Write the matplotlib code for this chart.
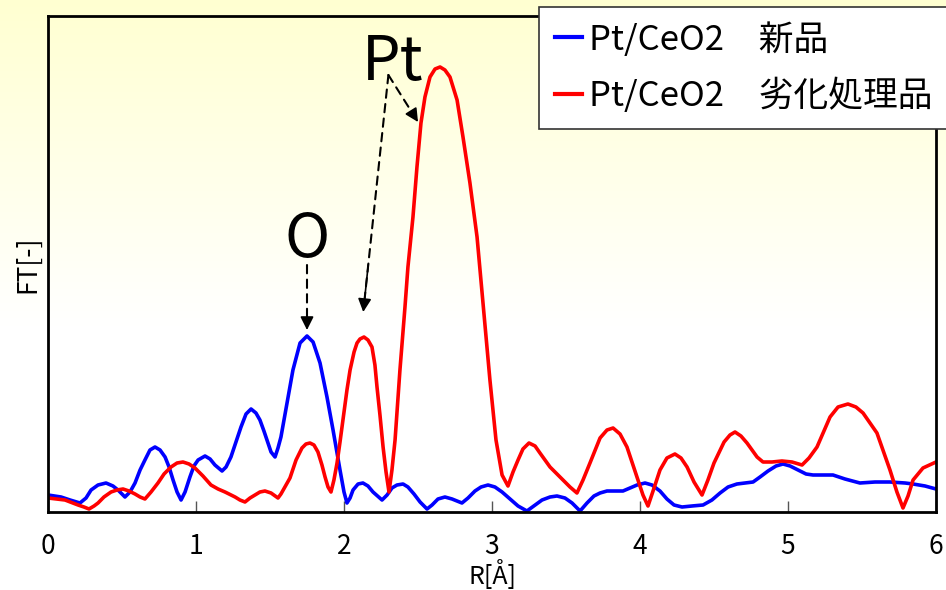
import numpy as np
import matplotlib
matplotlib.use('Agg')
import matplotlib.pyplot as plt

plt.rcParams['font.family'] = ['Noto Sans CJK JP', 'DejaVu Sans']

# blue: Pt/CeO2 new
r_new = [0.000, 0.088, 0.149, 0.216, 0.257, 0.291, 0.338, 0.392, 0.439, 0.473, 0.520, 0.554,
         0.588, 0.622, 0.655, 0.689, 0.723, 0.757, 0.791, 0.818, 0.845, 0.872, 0.899, 0.926,
         0.959, 0.986, 1.014, 1.061, 1.095, 1.128, 1.176, 1.203, 1.236, 1.270, 1.304, 1.338,
         1.372, 1.405, 1.432, 1.459, 1.486, 1.507, 1.534, 1.554, 1.574, 1.615, 1.655, 1.703,
         1.750, 1.791, 1.838, 1.885, 1.926, 1.973, 2.000, 2.020, 2.041, 2.061, 2.095, 2.128,
         2.162, 2.196, 2.257, 2.291, 2.324, 2.358, 2.399, 2.432, 2.473, 2.514, 2.561, 2.595,
         2.635, 2.682, 2.730, 2.797, 2.838, 2.885, 2.926, 2.973, 3.020, 3.068, 3.122, 3.176,
         3.236, 3.291, 3.338, 3.392, 3.439, 3.493, 3.541, 3.595, 3.642, 3.689, 3.730, 3.777,
         3.831, 3.885, 3.932, 3.980, 4.034, 4.081, 4.135, 4.182, 4.230, 4.284, 4.351, 4.426,
         4.486, 4.541, 4.595, 4.655, 4.709, 4.764, 4.811, 4.865, 4.919, 4.966, 5.014, 5.068,
         5.122, 5.169, 5.236, 5.304, 5.385, 5.486, 5.588, 5.689, 5.791, 5.845, 5.926, 6.000]
ft_new = [0.17, 0.15, 0.12, 0.09, 0.14, 0.22, 0.27, 0.29, 0.26, 0.22, 0.15, 0.20,
          0.29, 0.42, 0.52, 0.62, 0.65, 0.62, 0.55, 0.45, 0.32, 0.20, 0.12, 0.20,
          0.35, 0.46, 0.52, 0.56, 0.53, 0.47, 0.41, 0.45, 0.55, 0.70, 0.85, 0.98,
          1.03, 0.99, 0.92, 0.81, 0.69, 0.60, 0.55, 0.64, 0.75, 1.09, 1.42, 1.69,
          1.76, 1.70, 1.49, 1.15, 0.82, 0.42, 0.20, 0.09, 0.14, 0.22, 0.28, 0.29,
          0.26, 0.20, 0.12, 0.17, 0.24, 0.27, 0.28, 0.25, 0.18, 0.10, 0.03, 0.07,
          0.13, 0.15, 0.13, 0.09, 0.14, 0.21, 0.25, 0.27, 0.25, 0.20, 0.13, 0.06,
          0.01, 0.07, 0.12, 0.15, 0.16, 0.14, 0.09, 0.01, 0.09, 0.16, 0.19, 0.21,
          0.21, 0.21, 0.24, 0.27, 0.29, 0.27, 0.21, 0.13, 0.07, 0.05, 0.06, 0.07,
          0.12, 0.19, 0.25, 0.28, 0.29, 0.30, 0.35, 0.41, 0.46, 0.48, 0.46, 0.42,
          0.38, 0.37, 0.37, 0.37, 0.33, 0.29, 0.30, 0.30, 0.29, 0.28, 0.26, 0.23]

# red: Pt/CeO2 aged
r_aged = [0.000, 0.115, 0.203, 0.243, 0.277, 0.311, 0.338, 0.378, 0.426, 0.466, 0.507, 0.547,
          0.588, 0.622, 0.655, 0.696, 0.743, 0.784, 0.831, 0.872, 0.912, 0.953, 0.993, 1.047,
          1.101, 1.149, 1.196, 1.264, 1.297, 1.331, 1.365, 1.399, 1.432, 1.466, 1.507, 1.554,
          1.574, 1.601, 1.635, 1.676, 1.716, 1.743, 1.770, 1.797, 1.824, 1.851, 1.872, 1.892,
          1.912, 1.932, 1.953, 1.973, 1.993, 2.020, 2.041, 2.068, 2.088, 2.108, 2.135, 2.162,
          2.189, 2.209, 2.223, 2.243, 2.264, 2.284, 2.304, 2.324, 2.345, 2.378, 2.412, 2.432,
          2.466, 2.493, 2.520, 2.547, 2.581, 2.615, 2.649, 2.682, 2.716, 2.764, 2.804, 2.851,
          2.899, 2.939, 2.986, 3.027, 3.068, 3.108, 3.142, 3.176, 3.209, 3.250, 3.291, 3.324,
          3.392, 3.480, 3.527, 3.574, 3.615, 3.662, 3.730, 3.777, 3.818, 3.865, 3.912, 3.986,
          4.020, 4.054, 4.095, 4.135, 4.182, 4.236, 4.277, 4.318, 4.365, 4.419, 4.459, 4.500,
          4.568, 4.608, 4.642, 4.682, 4.723, 4.791, 4.831, 4.892, 4.959, 5.027, 5.095, 5.142,
          5.196, 5.284, 5.338, 5.405, 5.459, 5.507, 5.601, 5.689, 5.736, 5.777, 5.811, 5.845,
          5.912, 6.000]
ft_aged = [0.14, 0.12, 0.07, 0.05, 0.03, 0.06, 0.09, 0.15, 0.20, 0.22, 0.23, 0.21,
           0.18, 0.15, 0.13, 0.20, 0.29, 0.38, 0.45, 0.49, 0.50, 0.48, 0.44, 0.36,
           0.27, 0.23, 0.20, 0.15, 0.12, 0.10, 0.14, 0.17, 0.20, 0.21, 0.19, 0.14,
           0.18, 0.25, 0.34, 0.52, 0.64, 0.68, 0.69, 0.67, 0.60, 0.47, 0.35, 0.25,
           0.20, 0.32, 0.49, 0.70, 0.92, 1.22, 1.42, 1.60, 1.69, 1.73, 1.75, 1.72,
           1.65, 1.47, 1.25, 0.97, 0.65, 0.40, 0.20, 0.42, 0.72, 1.42, 2.05, 2.45,
           2.95, 3.45, 3.89, 4.15, 4.35, 4.43, 4.45, 4.42, 4.35, 4.12, 3.75, 3.29,
           2.75, 2.09, 1.32, 0.72, 0.37, 0.26, 0.40, 0.52, 0.63, 0.69, 0.66, 0.59,
           0.45, 0.32, 0.25, 0.19, 0.32, 0.49, 0.74, 0.82, 0.84, 0.78, 0.65, 0.32,
           0.17, 0.06, 0.24, 0.42, 0.54, 0.58, 0.54, 0.45, 0.30, 0.17, 0.32, 0.49,
           0.70, 0.77, 0.80, 0.76, 0.69, 0.55, 0.50, 0.50, 0.51, 0.50, 0.47, 0.54,
           0.65, 0.95, 1.05, 1.08, 1.05, 0.99, 0.79, 0.42, 0.20, 0.04, 0.16, 0.32,
           0.44, 0.50]

labels = ['Pt/CeO2\u3000新品', 'Pt/CeO2\u3000劣化処理品']
xticks = [0, 1, 2, 3, 4, 5, 6]

fig = plt.figure(figsize=(9.46, 5.9), dpi=100)

# pale yellow -> white background
bg = fig.add_axes([0, 0, 1, 1], zorder=-1)
grad = np.linspace(0, 1, 256)
top = np.array([1.0, 1.0, 0.82])
cols = np.zeros((256, 1, 3))
for i, g in enumerate(grad):
    t = min(g / 0.55, 1.0)
    cols[i, 0] = top * (1 - t) + np.array([1.0, 1.0, 1.0]) * t
bg.imshow(cols, aspect='auto', extent=[0, 1, 0, 1])
bg.axis('off')

ax = fig.add_axes([48/946, 78/590, 888/946, 496/590])
ax.set_facecolor('none')
ax.plot(r_new, ft_new, color='#0000ff', lw=2.6, label=labels[0], solid_joinstyle='round')
ax.plot(r_aged, ft_aged, color='#ff0000', lw=2.6, label=labels[1], solid_joinstyle='round')

ax.set_xlim(0, 6)
ax.set_ylim(0, 4.96)
ax.set_xticks(xticks)
ax.set_yticks([])
ax.tick_params(axis='x', direction='in', length=8, width=1, color='#555555', labelsize=19, pad=15)
for s in ax.spines.values():
    s.set_linewidth(2)
ax.set_xlabel('R[Å]', fontsize=18, labelpad=0)
ax.set_ylabel('FT[-]', fontsize=19, labelpad=5)

ax.text(1.75, 2.55, 'O', fontsize=44, ha='center', va='baseline')
ax.text(2.33, 4.32, 'Pt', fontsize=44, ha='center', va='baseline')


def dashed_arrow(x0, y0, x1, y1):
    ax.annotate('', xy=(x1, y1), xytext=(x0, y0),
                arrowprops=dict(arrowstyle='-', color='k', lw=1.5, linestyle=(0, (4, 3)),
                                shrinkA=0, shrinkB=8))
    xs = x0 + (x1 - x0) * 0.8
    ys = y0 + (y1 - y0) * 0.8
    ax.annotate('', xy=(x1, y1), xytext=(xs, ys),
                arrowprops=dict(arrowstyle='-|>', color='k', lw=1.2, mutation_scale=20,
                                shrinkA=0, shrinkB=0))


dashed_arrow(1.75, 2.47, 1.75, 1.82)
dashed_arrow(2.30, 4.37, 2.13, 2.00)
dashed_arrow(2.30, 4.37, 2.50, 3.90)

leg = ax.legend(loc='upper left', bbox_to_anchor=(539/946, 1 - 7/590), bbox_transform=fig.transFigure,
                fontsize=25, frameon=True, fancybox=False, handlelength=0.8, handletextpad=0.2,
                labelspacing=0.6, borderpad=0.45, borderaxespad=0)
leg.get_frame().set_edgecolor('#333333')
leg.get_frame().set_linewidth(1.2)
leg.get_frame().set_alpha(1)
for ln in leg.get_lines():
    ln.set_linewidth(3)

fig.savefig('out.png', dpi=100)
